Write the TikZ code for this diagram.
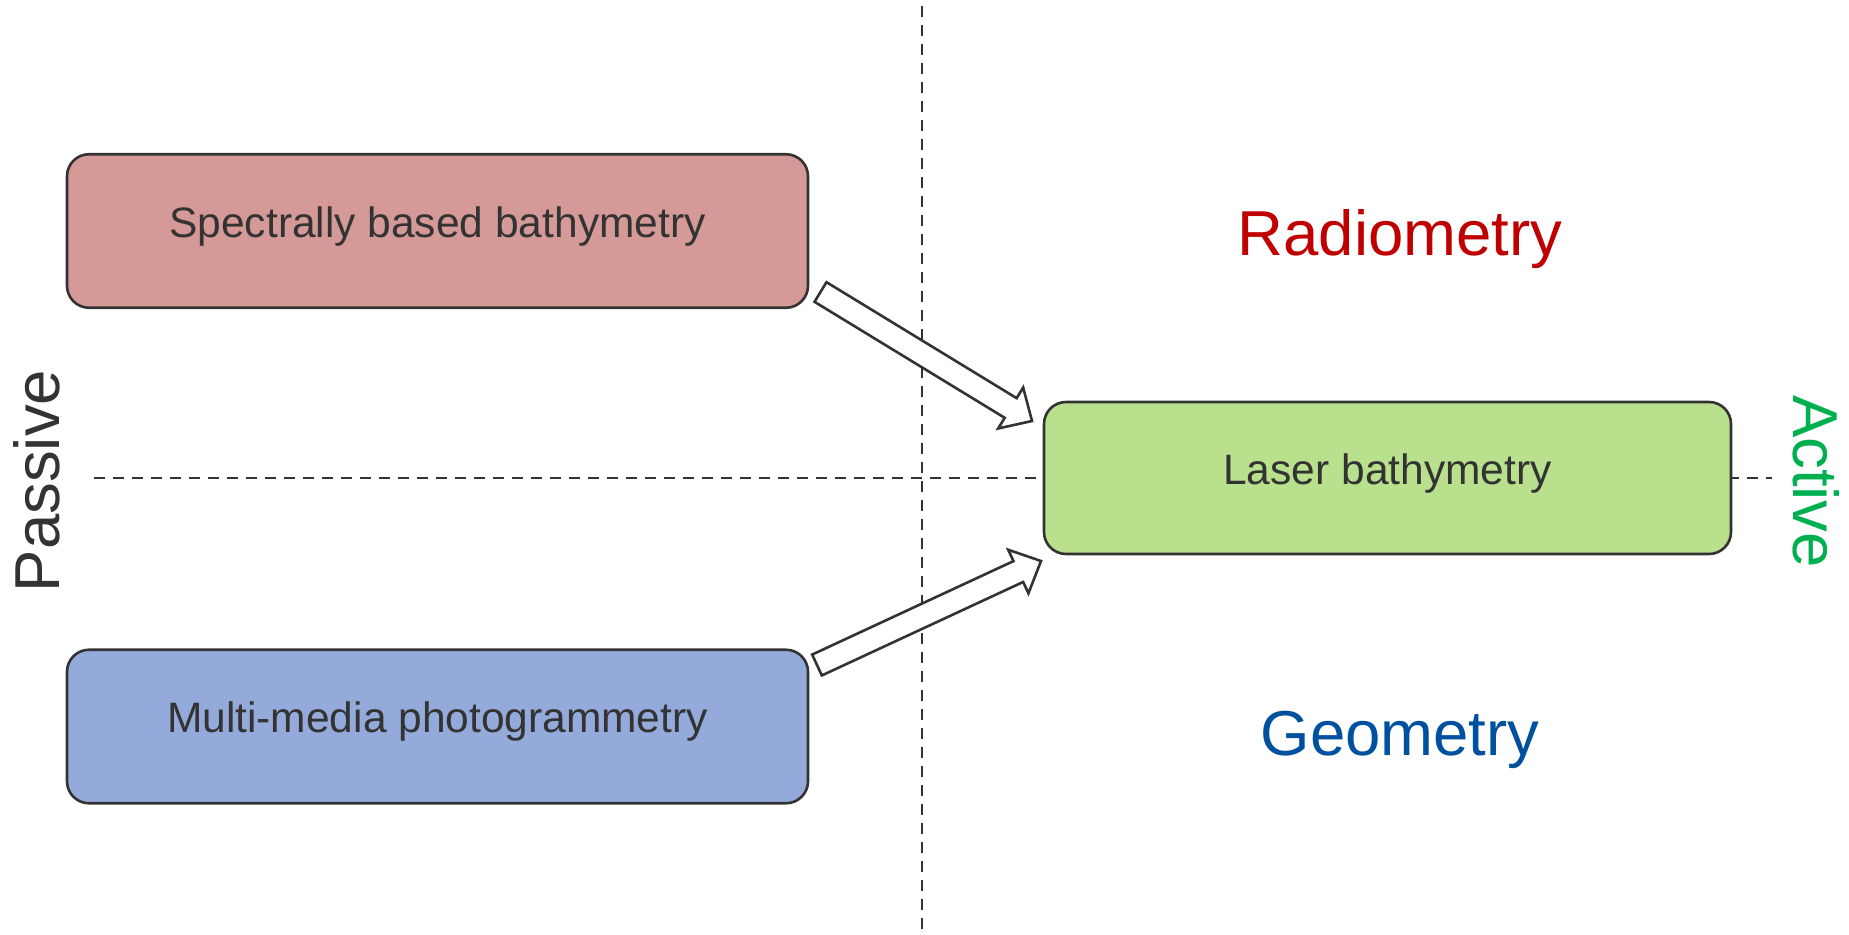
\documentclass[tikz,border=0pt]{standalone}
\usepackage{fontspec}
\setmainfont{Liberation Sans}
\usetikzlibrary{calc}
\definecolor{ink}{HTML}{333333}
\definecolor{pinkfill}{HTML}{D59998}
\definecolor{greenfill}{HTML}{B9E08C}
\definecolor{bluefill}{HTML}{94AADB}
\definecolor{radred}{HTML}{C00000}
\definecolor{geoblue}{HTML}{0050A0}
\definecolor{actgreen}{HTML}{00B050}
\tikzset{
  box/.style={draw=ink, line width=2.6pt, rounded corners=22pt, inner sep=0pt,
    text=ink, font=\fontsize{42.5}{50}\selectfont, text height=30pt, text depth=18pt},
  guide/.style={draw=ink, line width=2.6pt, dash pattern=on 11pt off 8pt},
  fatarrow/.style={draw=ink, line width=2.6pt, fill=white, line join=miter},
  bigword/.style={font=\fontsize{63.5}{70}\selectfont, inner sep=0pt, anchor=base}
}
\begin{document}
\begin{tikzpicture}[x=1pt, y=-1pt]
\useasboundingbox (0,0) rectangle (1849,934);
% guide lines
\coordinate (vtop) at (922,6);
\coordinate (vbot) at (922,934);
\coordinate (hl) at (94,478);
\coordinate (hr) at (1772,478);
\draw[guide] (vtop) -- (vbot);
\draw[guide] (hl) -- (hr);
% boxes
\node[box, fill=pinkfill, minimum width=741pt, minimum height=153.5pt] (spec) at (437.5,231) {Spectrally based bathymetry};
\node[box, fill=bluefill, minimum width=741pt, minimum height=153.5pt] (multi) at (437.5,726.5) {Multi-media photogrammetry};
\node[box, fill=greenfill, minimum width=687pt, minimum height=152pt] (laser) at (1387.5,478) {Laser bathymetry};
% labels
\node[bigword, text=radred] (rad) at (1400,255) {Radiometry};
\node[bigword, text=geoblue] (geo) at (1400,755) {Geometry};
\node[bigword, text=ink, rotate=90] (pas) at (59,481) {Passive};
\node[bigword, text=actgreen, rotate=-90] (act) at (1793,481.5) {Active};
% arrow 1
\coordinate (t1) at (820.5,292);
\coordinate (h1) at (1032,421);
\coordinate (s1) at ($(h1)!25pt!(t1)$);
\draw[fatarrow] ($(t1)!11.5pt!90:(h1)$) -- ($(s1)!11.5pt!90:(h1)$) -- ($(s1)!24pt!90:(h1)$)
  -- (h1) -- ($(s1)!24pt!-90:(h1)$) -- ($(s1)!11.5pt!-90:(h1)$) -- ($(t1)!11.5pt!-90:(h1)$) -- cycle;
% arrow 2
\coordinate (t2) at (817,665);
\coordinate (h2) at (1041,561);
\coordinate (s2) at ($(h2)!25pt!(t2)$);
\draw[fatarrow] ($(t2)!11.5pt!90:(h2)$) -- ($(s2)!11.5pt!90:(h2)$) -- ($(s2)!24pt!90:(h2)$)
  -- (h2) -- ($(s2)!24pt!-90:(h2)$) -- ($(s2)!11.5pt!-90:(h2)$) -- ($(t2)!11.5pt!-90:(h2)$) -- cycle;
\end{tikzpicture}
\end{document}
